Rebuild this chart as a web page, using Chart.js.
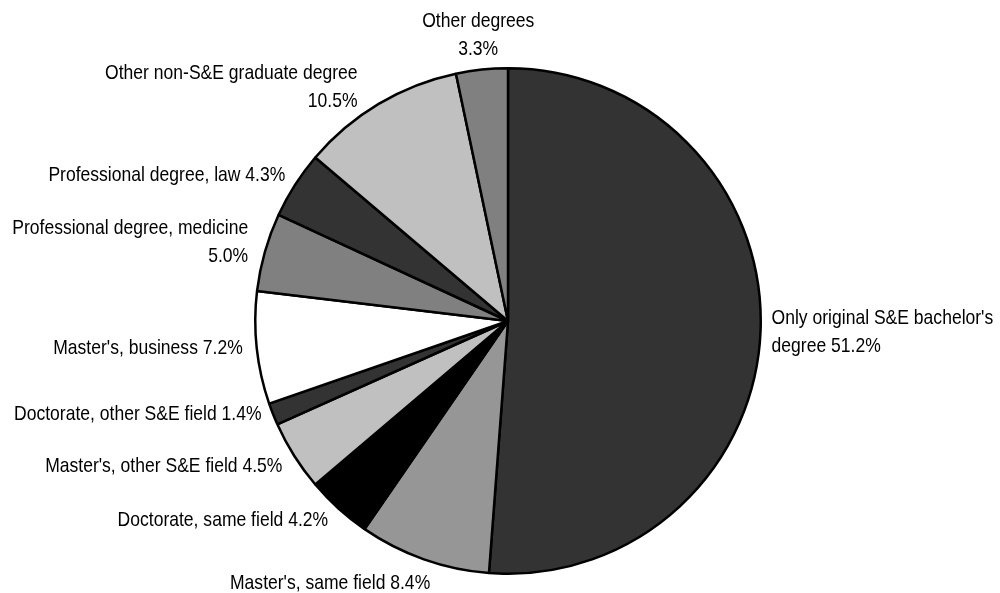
<!DOCTYPE html>
<html>
<head>
<meta charset="utf-8">
<script src="https://cdn.jsdelivr.net/npm/chart.js@4/dist/chart.umd.min.js"></script>
<style>
  html, body { margin: 0; padding: 0; background: #fff; }
  #wrap { width: 1000px; height: 593px; }
</style>
</head>
<body>
<div id="wrap"><canvas id="c" width="1000" height="593"></canvas></div>
<script>
// Degree categories, clockwise from 12 o'clock; each inner array is one label's lines
const categories = [
  ["Only original S&E bachelor's", "degree"],
  ["Master's, same field"],
  ["Doctorate, same field"],
  ["Master's, other S&E field"],
  ["Doctorate, other S&E field"],
  ["Master's, business"],
  ["Professional degree, medicine", ""],
  ["Professional degree, law"],
  ["Other non-S&E graduate degree", ""],
  ["Other degrees", ""]
];
// Share of S&E bachelor's holders (percent)
const shares = [51.2, 8.4, 4.2, 4.5, 1.4, 7.2, 5.0, 4.3, 10.5, 3.3];
const fills = ['#333333', '#969696', '#000000', '#c0c0c0', '#333333',
               '#ffffff', '#808080', '#333333', '#c0c0c0', '#808080'];

// narrow sans: regular Liberation Sans squeezed horizontally
const FONT = '21px "Liberation Sans", Arial, sans-serif';
const SQUEEZE = 0.835;
const LINE_H = 28;
const GAP = 8;
// small per-label nudges (px) so neighbouring labels sit clear of each other
const nudge = [[3,0],[9,3],[-5,-5],[-5,-1],[-4,-8],[-6,-2],[-9,0],[-3,2],[-17,14],[3,1]];

const labelPlugin = {
  id: 'outsideLabels',
  afterDatasetsDraw(chart) {
    const ctx = chart.ctx;
    const meta = chart.getDatasetMeta(0);
    ctx.save();
    ctx.font = FONT;
    ctx.fillStyle = '#000';
    ctx.textBaseline = 'middle';
    meta.data.forEach((arc, i) => {
      const lines = categories[i].slice();
      const pct = shares[i].toFixed(1) + '%';
      const last = lines.length - 1;
      lines[last] = lines[last] ? lines[last] + ' ' + pct : pct;
      const mid = (arc.startAngle + arc.endAngle) / 2;
      const s = Math.cos(mid), c = Math.sin(mid); // x and y direction
      const r = arc.outerRadius + GAP;
      const ax = arc.x + r * s;
      const ay = arc.y + r * c;
      const h = lines.length * LINE_H;
      const w = Math.max(...lines.map(t => ctx.measureText(t).width * SQUEEZE));
      let align, x;
      if (s > 0.2) { align = 'left'; x = ax; }
      else if (s < -0.2) { align = 'right'; x = ax; }
      else { align = 'center'; x = ax + s * w / 2; }
      const cy = ay + c * h / 2;
      ctx.textAlign = align;
      lines.forEach((t, k) => {
        const y = cy - h / 2 + LINE_H * (k + 0.5);
        ctx.save();
        ctx.translate(x + nudge[i][0], y + nudge[i][1]);
        ctx.scale(SQUEEZE, 1);
        ctx.fillText(t, 0, 0);
        ctx.restore();
      });
    });
    ctx.restore();
  }
};

new Chart(document.getElementById('c'), {
  type: 'pie',
  data: {
    labels: categories.map(l => l.join(' ').trim()),
    datasets: [{
      data: shares,
      backgroundColor: fills,
      borderColor: '#000000',
      borderWidth: 2.5
    }]
  },
  options: {
    responsive: false,
    animation: false,
    layout: { padding: { left: 254, right: 238, top: 67, bottom: 18 } },
    plugins: { legend: { display: false }, tooltip: { enabled: false } }
  },
  plugins: [labelPlugin]
});
</script>
</body>
</html>
